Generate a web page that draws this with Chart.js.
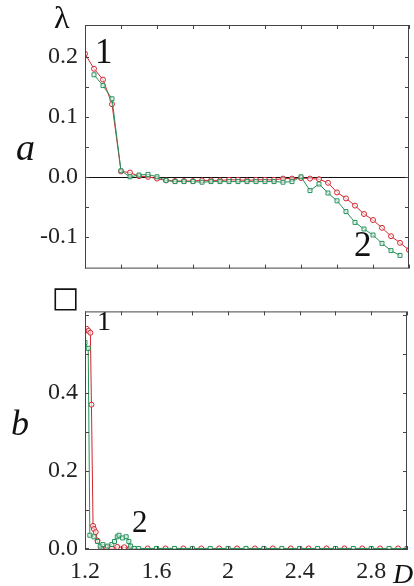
<!DOCTYPE html>
<html>
<head>
<meta charset="utf-8">
<script src="https://cdn.jsdelivr.net/npm/chart.js@4/dist/chart.umd.min.js"></script>
<style>
  html, body { margin: 0; padding: 0; background: #fff; }
  #wrap { position: relative; width: 414px; height: 586px; overflow: hidden; font-family: "Liberation Serif", "DejaVu Serif", serif; color: #111; }
  canvas { position: absolute; left: 0; }
  .lbl { position: absolute; line-height: 1; white-space: nowrap; }
  .it { font-style: italic; }
</style>
</head>
<body>
<div id="wrap">
  <canvas id="topChart" width="414" height="290" style="top:0"></canvas>
  <canvas id="bottomChart" width="414" height="296" style="top:290px"></canvas>

  <div class="lbl" style="left:54px;top:1px;font-size:32px;">λ</div>
  <div class="lbl it" style="left:16px;top:128px;font-size:38px;">a</div>
  <div class="lbl" style="left:95px;top:34px;font-size:35px;">1</div>
  <div class="lbl" style="left:354px;top:227px;font-size:35px;">2</div>

  <div class="lbl" style="left:52px;top:283px;font-size:29px;font-family:'DejaVu Sans',sans-serif;">□</div>
  <div class="lbl it" style="left:11px;top:405px;font-size:36px;">b</div>
  <div class="lbl" style="left:97px;top:307px;font-size:28px;">1</div>
  <div class="lbl" style="left:132px;top:506px;font-size:31px;">2</div>
  <div class="lbl it" style="left:393px;top:560px;font-size:28px;">D</div>
</div>

<script>
// ---- panel a: Lyapunov exponent vs D ----
const xTop = [1.20, 1.25, 1.30, 1.35, 1.40, 1.45, 1.50, 1.55, 1.60, 1.65, 1.70, 1.75, 1.80,
              1.85, 1.90, 1.95, 2.00, 2.05, 2.10, 2.15, 2.20, 2.25, 2.30, 2.35, 2.40, 2.45,
              2.50, 2.55, 2.60, 2.65, 2.70, 2.75, 2.80, 2.85, 2.90, 2.95, 3.00];
const lambdaRed = [0.205, 0.180, 0.162, 0.121, 0.009, 0.007, 0.001, 0.000, -0.003, -0.006, -0.007, -0.007, -0.007,
                   -0.006, -0.006, -0.006, -0.005, -0.005, -0.006, -0.005, -0.005, -0.005, -0.003, -0.003, -0.002, -0.003,
                   -0.004, -0.010, -0.026, -0.036, -0.048, -0.062, -0.072, -0.085, -0.099, -0.110, -0.122];
const xTopGreen = xTop.slice(1);
const lambdaGreen = [0.170, 0.152, 0.130, 0.010, 0.000, 0.003, 0.004, 0.000, -0.006, -0.008, -0.008, -0.008,
                     -0.009, -0.008, -0.008, -0.008, -0.008, -0.008, -0.008, -0.008, -0.008, -0.009, -0.008, 0.000,
                     -0.023, -0.012, -0.027, -0.040, -0.058, -0.076, -0.087, -0.097, -0.111, -0.123, -0.131];

// ---- panel b ----
const xBotRed = [1.20, 1.21, 1.22, 1.23, 1.236, 1.245, 1.25, 1.26, 1.27, 1.29, 1.32, 1.35, 1.38, 1.42, 1.45,
                 1.55, 1.65, 1.75, 1.85, 1.95, 2.05, 2.15, 2.25, 2.35, 2.45, 2.55, 2.65, 2.75, 2.85, 2.95];
const bRed = [0.560, 0.565, 0.560, 0.555, 0.370, 0.058, 0.050, 0.042, 0.020, 0.000, 0.002, 0.000, 0.004, 0.003, 0.000,
              0, 0, 0, 0, 0, 0, 0, 0, 0, 0, 0, 0, 0, 0, 0];
const xBotGreen = [1.20, 1.218, 1.227, 1.25, 1.27, 1.285, 1.30, 1.325, 1.35, 1.365, 1.38, 1.39, 1.41, 1.43, 1.445,
                   1.455, 1.475, 1.50, 1.60, 1.70, 1.80, 1.90, 2.00, 2.10, 2.20, 2.30, 2.40, 2.50, 2.60, 2.70,
                   2.80, 2.90, 3.00];
const bGreen = [0.530, 0.515, 0.034, 0.030, 0.018, 0.006, 0.010, 0.006, 0.010, 0.018, 0.030, 0.034, 0.027, 0.030, 0.018,
                0.006, 0.000, 0, 0, 0, 0, 0, 0, 0, 0, 0, 0, 0, 0, 0, 0, 0, 0];

// tick values
const xTicks = [1.2, 1.4, 1.6, 1.8, 2.0, 2.2, 2.4, 2.6, 2.8, 3.0];
const xLabels = [1.2, 1.6, 2.0, 2.4, 2.8];
const yTopTicks = [-0.1, -0.05, 0, 0.05, 0.1, 0.15, 0.2];
const yTopLabels = [-0.1, 0, 0.1, 0.2];
const yBotTicks = [0, 0.1, 0.2, 0.3, 0.4, 0.5, 0.6];
const yBotLabels = [0, 0.2, 0.4];

const RED = '#d3262e';
const GREEN = '#23925a';

function pts(xs, ys) {
    return xs.map((x, i) => ({ x: x, y: ys[i] }));
}

function isIn(list, v) {
    return list.some((l) => Math.abs(l - v) < 1e-6);
}

function series(data, color, style, r) {
    return {
        data: data,
        borderColor: color,
        borderWidth: 1,
        pointStyle: style,
        pointRadius: r,
        pointBorderWidth: 1,
        pointBorderColor: color,
        pointBackgroundColor: 'rgba(255,255,255,0.6)',
        tension: 0,
    };
}

// frame, inward tick marks and zero line
const frameTicks = {
    id: 'frameTicks',
    beforeDatasetsDraw(chart, args, opts) {
        if (!opts.zeroLine) return;
        const { ctx, chartArea: a, scales } = chart;
        const y0 = Math.round(scales.y.getPixelForValue(0)) + 0.5;
        ctx.save();
        ctx.strokeStyle = '#111';
        ctx.lineWidth = 1;
        ctx.beginPath();
        ctx.moveTo(a.left, y0);
        ctx.lineTo(a.right, y0);
        ctx.stroke();
        ctx.restore();
    },
    afterDatasetsDraw(chart) {
        const { ctx, chartArea: a, scales } = chart;
        ctx.save();
        ctx.strokeStyle = '#444';
        ctx.lineWidth = 1;
        ctx.strokeRect(a.left + 0.5, a.top + 0.5, a.right - a.left - 1, a.bottom - a.top - 1);
        ctx.beginPath();
        xTicks.forEach((v) => {
            const px = Math.round(scales.x.getPixelForValue(v)) + 0.5;
            ctx.moveTo(px, a.top); ctx.lineTo(px, a.top + 4);
            ctx.moveTo(px, a.bottom); ctx.lineTo(px, a.bottom - 4);
        });
        scales.y.ticks.forEach((t) => {
            const py = Math.round(scales.y.getPixelForValue(t.value)) + 0.5;
            ctx.moveTo(a.left, py); ctx.lineTo(a.left + 4, py);
            ctx.moveTo(a.right, py); ctx.lineTo(a.right - 4, py);
        });
        ctx.stroke();
        ctx.restore();
    },
};

const tickFont = { family: '"Liberation Serif", serif', size: 24 };

function yScale(min, max, tickVals, labelVals) {
    return {
        type: 'linear',
        min: min,
        max: max,
        afterBuildTicks: (s) => { s.ticks = tickVals.map((v) => ({ value: v })); },
        afterFit: (s) => { s.width = 85; },
        grid: { display: false, drawTicks: false },
        border: { display: false },
        ticks: {
            autoSkip: false,
            padding: 7,
            color: '#222',
            font: tickFont,
            callback: (v) => (isIn(labelVals, v) ? Number(v).toFixed(1) : ''),
        },
    };
}

// Top panel (a)
new Chart(document.getElementById('topChart'), {
    type: 'line',
    data: {
        datasets: [
            series(pts(xTopGreen, lambdaGreen), GREEN, 'rect', 2.8),
            series(pts(xTop, lambdaRed), RED, 'circle', 2.5),
        ],
    },
    options: {
        responsive: false,
        animation: false,
        devicePixelRatio: 1,
        layout: { padding: { top: 25, right: 1, bottom: 13, left: 0 } },
        plugins: { legend: { display: false }, tooltip: { enabled: false }, frameTicks: { zeroLine: true } },
        scales: {
            x: {
                type: 'linear', min: 1.2, max: 3.0, display: false,
                afterBuildTicks: (s) => { s.ticks = xTicks.map((v) => ({ value: v })); },
            },
            y: yScale(-0.153, 0.253, yTopTicks, yTopLabels),
        },
    },
    plugins: [frameTicks],
});

// Bottom panel (b)
new Chart(document.getElementById('bottomChart'), {
    type: 'line',
    data: {
        datasets: [
            series(pts(xBotGreen, bGreen), GREEN, 'rect', 2.8),
            series(pts(xBotRed, bRed), RED, 'circle', 2.5),
        ],
    },
    options: {
        responsive: false,
        animation: false,
        devicePixelRatio: 1,
        layout: { padding: { top: 10, right: 1, bottom: 0, left: 0 } },
        plugins: { legend: { display: false }, tooltip: { enabled: false }, frameTicks: { zeroLine: false } },
        scales: {
            x: {
                type: 'linear', min: 1.2, max: 3.0,
                afterBuildTicks: (s) => { s.ticks = xTicks.map((v) => ({ value: v })); },
                afterFit: (s) => { s.height = 36; },
                grid: { display: false, drawTicks: false },
                border: { display: false },
                ticks: {
                    autoSkip: false,
                    maxRotation: 0,
                    padding: 7,
                    color: '#222',
                    font: tickFont,
                    callback: (v) => (isIn(xLabels, v) ? String(Number(v.toFixed(1))) : ''),
                },
            },
            y: yScale(-0.004, 0.61, yBotTicks, yBotLabels),
        },
    },
    plugins: [frameTicks],
});
</script>
</body>
</html>
